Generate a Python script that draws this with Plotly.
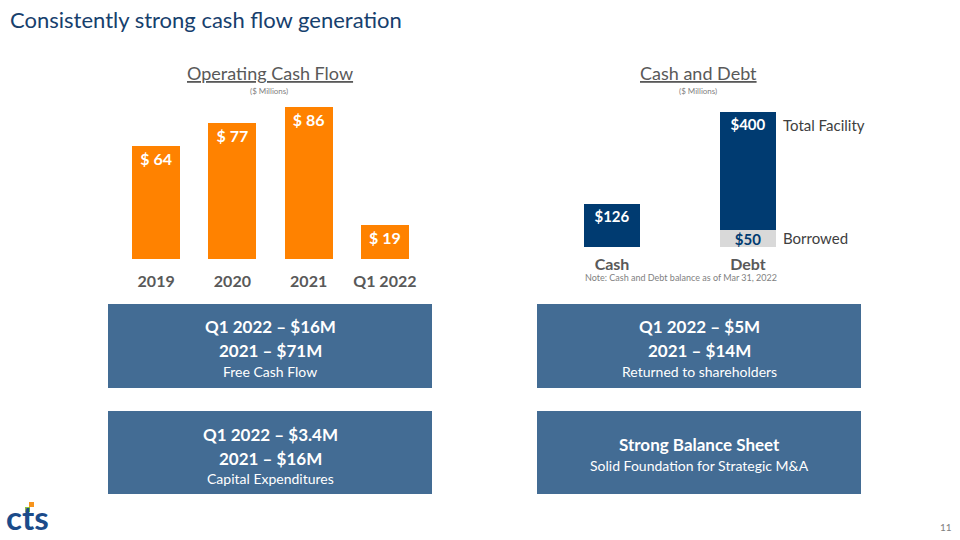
import plotly.graph_objects as go

# ---- data ----
ocf_years = ["2019", "2020", "2021", "Q1 2022"]
ocf_values = [64, 77, 86, 19]

cd_categories = ["Cash", "Debt"]
cash_value = 126
debt_facility = 400
debt_borrowed = 50

FONT = "Lato, 'Open Sans', sans-serif"
ORANGE = "#FF8200"
NAVY = "#003B71"
BOXC = "#436C94"
GREY_TXT = "#595959"

W, H = 960, 540
def px(x):
    return x / W
def py(y):
    return 1 - y / H

fig = go.Figure()

# Operating cash flow bars
fig.add_trace(go.Bar(
    x=ocf_years, y=ocf_values, marker=dict(color=ORANGE, line=dict(width=0)),
    text=[f"$ {v}" for v in ocf_values], textposition="inside",
    insidetextanchor="end", textangle=0, constraintext="none",
    textfont=dict(family=FONT, size=16, color="white", weight="bold"),
    xaxis="x", yaxis="y", showlegend=False, hoverinfo="skip",
))

# Cash and Debt bars
fig.add_trace(go.Bar(
    x=[cd_categories[0]], y=[cash_value], marker=dict(color=NAVY, line=dict(width=0)),
    text=[f"${cash_value}"], textposition="inside", insidetextanchor="end", textangle=0,
    constraintext="none",
    textfont=dict(family=FONT, size=15, color="white", weight="bold"),
    xaxis="x2", yaxis="y2", showlegend=False, hoverinfo="skip",
))
fig.add_trace(go.Bar(
    x=[cd_categories[1]], y=[debt_borrowed], marker=dict(color="#D9D9D9", line=dict(width=0)),
    text=[f"${debt_borrowed}"], textposition="inside", insidetextanchor="middle", textangle=0,
    constraintext="none",
    textfont=dict(family=FONT, size=15, color=NAVY, weight="bold"),
    xaxis="x2", yaxis="y2", showlegend=False, hoverinfo="skip",
))
fig.add_trace(go.Bar(
    x=[cd_categories[1]], y=[debt_facility - debt_borrowed], marker=dict(color=NAVY, line=dict(width=0)),
    text=[f"${debt_facility}"], textposition="inside", insidetextanchor="end", textangle=0,
    constraintext="none",
    textfont=dict(family=FONT, size=15, color="white", weight="bold"),
    xaxis="x2", yaxis="y2", showlegend=False, hoverinfo="skip",
))

# axes
left_top = 259 - 100 * 1.767
fig.update_layout(
    xaxis=dict(domain=[px(118), px(423)], range=[-0.5, 3.5], showgrid=False, zeroline=False,
               showline=False, ticks="", tickfont=dict(family=FONT, size=16, color=GREY_TXT, weight="bold"),
               ticklabelstandoff=11, fixedrange=True),
    yaxis=dict(domain=[py(259), py(left_top)], range=[0, 100], visible=False, fixedrange=True),
    xaxis2=dict(domain=[px(544), px(816)], range=[-0.5, 1.5], showgrid=False, zeroline=False,
                showline=False, ticks="", tickfont=dict(family=FONT, size=16, color=GREY_TXT, weight="bold"),
                ticklabelstandoff=6, fixedrange=True, anchor="y2"),
    yaxis2=dict(domain=[py(247), py(247 - 450 * 0.3375)], range=[0, 450], visible=False,
                fixedrange=True, anchor="x2"),
    barmode="stack", bargap=0.37,
)
fig.update_traces(selector=dict(xaxis="x2"), width=56 / 136)

shapes = []
annotations = []

def ann(x, y, text, size, color, xanchor="center", bold=False, **kw):
    annotations.append(dict(
        x=px(x), y=py(y), xref="paper", yref="paper", text=text, showarrow=False,
        xanchor=xanchor, yanchor="middle",
        font=dict(family=FONT, size=size, color=color, weight="bold" if bold else "normal"), **kw))

# slide title
ann(8, 19, "Consistently strong cash flow generation", 22, "#17406D", xanchor="left")

# chart titles
ann(270, 73, "<u>Operating Cash Flow</u>", 18, GREY_TXT)
ann(269, 91, "($ Millions)", 8, "#7F7F7F")
ann(698, 73, "<u>Cash and Debt</u>", 18, GREY_TXT)
ann(698, 91, "($ Millions)", 8, "#7F7F7F")

ann(781, 125, "Total Facility", 15, "#404040", xanchor="left")
ann(781, 238, "Borrowed", 15, "#404040", xanchor="left")
ann(681, 277, "Note: Cash and Debt balance as of Mar 31, 2022", 9, "#7F7F7F")

# boxes
boxes = [
    (108, 304, 432, 388, [("Q1 2022 – $16M", 17, True, 326), ("2021 – $71M", 17, True, 350), ("Free Cash Flow", 14, False, 371)]),
    (108, 411, 432, 494, [("Q1 2022 – $3.4M", 17, True, 434), ("2021 – $16M", 17, True, 458), ("Capital Expenditures", 14, False, 478)]),
    (537, 304, 861, 388, [("Q1 2022 – $5M", 17, True, 326), ("2021 – $14M", 17, True, 350), ("Returned to shareholders", 14, False, 371)]),
    (537, 411, 861, 494, [("Strong Balance Sheet", 17, True, 444), ("Solid Foundation for Strategic M&A", 14, False, 465)]),
]
for x0, y0, x1, y1, lines in boxes:
    shapes.append(dict(type="rect", xref="paper", yref="paper", x0=px(x0), x1=px(x1), y0=py(y1), y1=py(y0),
                       fillcolor=BOXC, line=dict(width=0), layer="below"))
    for t, s, b, yy in lines:
        ann((x0 + x1) / 2, yy, t, s, "white", bold=b)

# logo
ann(5, 517, "cts", 33, "#1B4B8A", xanchor="left", bold=True, borderpad=0)
shapes.append(dict(type="rect", xref="paper", yref="paper", x0=px(25), x1=px(30), y0=py(512), y1=py(507),
                   fillcolor="#8DC63F", line=dict(width=0)))
shapes.append(dict(type="rect", xref="paper", yref="paper", x0=px(29), x1=px(34), y0=py(507), y1=py(502),
                   fillcolor="#F7941D", line=dict(width=0)))

# page number
ann(946, 527, "11", 10, "#7F7F7F")

fig.update_layout(
    width=W, height=H, margin=dict(l=0, r=0, t=0, b=0),
    paper_bgcolor="white", plot_bgcolor="white",
    shapes=shapes, annotations=annotations, showlegend=False,
    font=dict(family=FONT),
)

fig.write_html("out.html", config={"displayModeBar": False},
               post_script="document.body.style.margin='0';document.body.style.overflow='hidden';")
